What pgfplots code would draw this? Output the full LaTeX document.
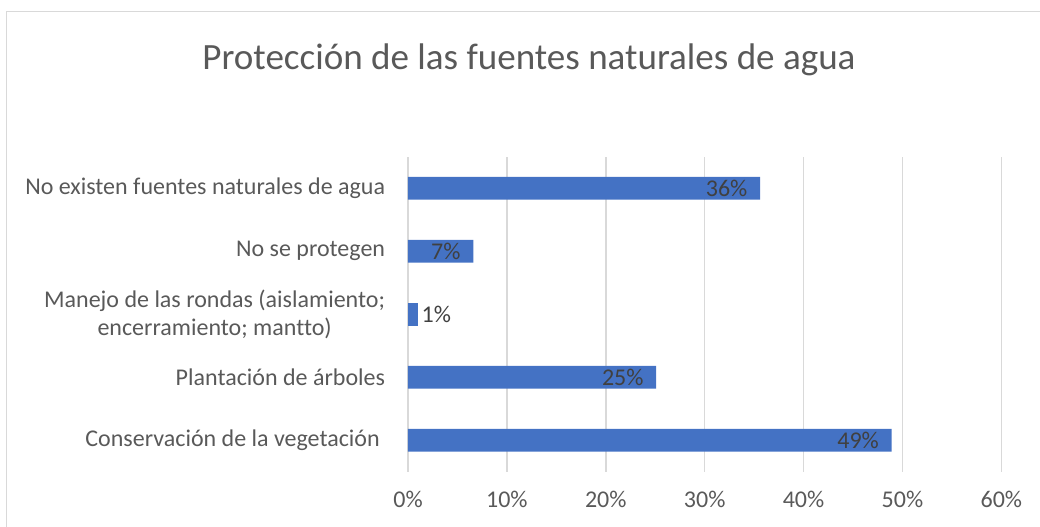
\documentclass[border=0pt]{standalone}
\usepackage{fontspec}
\setmainfont{Carlito}[Ligatures=NoCommon]
\usepackage{pgfplots}
\pgfplotsset{compat=1.18}
\definecolor{barblue}{HTML}{4472C4}
\definecolor{gridgray}{HTML}{D9D9D9}
\definecolor{txtgray}{HTML}{595959}
\definecolor{lblgray}{HTML}{404040}

\begin{document}
\begin{tikzpicture}
\useasboundingbox (0,0) rectangle (780pt,-395.25pt);
% chart frame (cut off at right and bottom)
\draw[gridgray, line width=0.75pt] (4.9pt,-420pt) -- (4.9pt,-9pt) -- (800pt,-9pt);
\node[txtgray, font=\fontsize{27.8}{33}\selectfont] at (396.75pt,-45pt) {Protección de las fuentes naturales de agua};
\begin{axis}[
  at={(306pt,-353.8pt)}, anchor=south west,
  scale only axis, width=445pt, height=236.25pt,
  xbar, bar width=17pt,
  xmin=0, xmax=60, ymin=-0.5, ymax=4.5,
  axis line style={draw=none},
  xmajorgrids, grid style={gridgray, line width=1.2pt},
  xtick={0,10,...,60}, xticklabels={0\%,10\%,20\%,30\%,40\%,50\%,60\%},
  ytick={0,...,4},
  yticklabels={Conservación de la vegetación\kern4pt, Plantación de árboles, {Manejo de las rondas (aislamiento;\\encerramiento; mantto)}, No se protegen, No existen fuentes naturales de agua},
  major tick length=0pt,
  tick label style={txtgray, font=\fontsize{18}{20.5}\selectfont},
  yticklabel style={align=center, inner sep=0pt, xshift=-17pt},
  xticklabel style={yshift=-11pt},
  nodes near coords={\pgfplotspointmeta}, point meta=explicit symbolic,
  nodes near coords style={lblgray, font=\fontsize{18}{20}\selectfont},
]
\addplot[fill=barblue, draw=none, bar shift=0pt, nodes near coords style={anchor=east, xshift=-6pt}]
  coordinates {(48.9,0) [49\%] (25.1,1) [25\%] (6.6,3) [7\%] (35.6,4) [36\%]};
\addplot[fill=barblue, draw=none, bar shift=0pt, nodes near coords style={anchor=west, xshift=-0.75pt}]
  coordinates {(1.0,2) [1\%]};
\end{axis}
\end{tikzpicture}
\end{document}
